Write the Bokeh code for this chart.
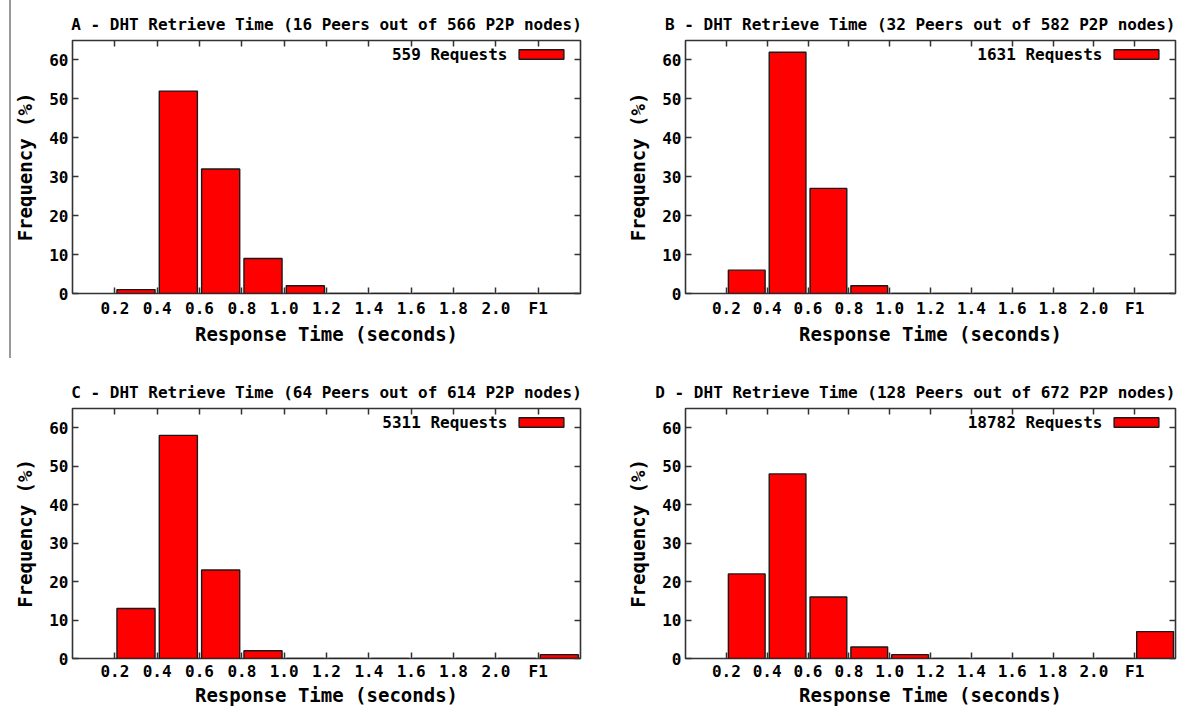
from bokeh.plotting import figure
from bokeh.layouts import row, column
from bokeh.models import (Range1d, FixedTicker, LinearAxis, Legend, LegendItem,
                          Label, Div, Spacer, ColumnDataSource)
from bokeh.embed import file_html
from bokeh.resources import INLINE

# ---------------- data ----------------
bin_labels = ["0.2", "0.4", "0.6", "0.8", "1.0", "1.2", "1.4", "1.6", "1.8", "2.0", "F1"]
freq_a = [1, 52, 32, 9, 2, 0, 0, 0, 0, 0, 0]
freq_b = [6, 62, 27, 2, 0, 0, 0, 0, 0, 0, 0]
freq_c = [13, 58, 23, 2, 0, 0, 0, 0, 0, 0, 1]
freq_d = [22, 48, 16, 3, 1, 0, 0, 0, 0, 0, 7]
titles = [
    "A - DHT Retrieve Time (16 Peers out of 566 P2P nodes)",
    "B - DHT Retrieve Time (32 Peers out of 582 P2P nodes)",
    "C - DHT Retrieve Time (64 Peers out of 614 P2P nodes)",
    "D - DHT Retrieve Time (128 Peers out of 672 P2P nodes)",
]
request_labels = ["559 Requests", "1631 Requests", "5311 Requests", "18782 Requests"]
y_ticks = [0, 10, 20, 30, 40, 50, 60]
x_title = "Response Time (seconds)"
y_title = "Frequency (%)"

FONT = "DejaVu Sans Mono"
X_MAX = len(bin_labels) + 1
Y_MAX = 65
FRAME_COLOR = "#333333"


def make_panel(title, values, req, width, height, bl, br, bt, bb,
               title_align="center", tick_std=5, xlab_std=2):
    tick_pos = list(range(1, len(bin_labels) + 1))
    src = ColumnDataSource(dict(x=[t + 0.5 for t in tick_pos], top=values))
    p = figure(width=width, height=height,
               x_range=Range1d(0, X_MAX), y_range=Range1d(0, Y_MAX),
               output_backend="svg", toolbar_location=None, title=title,
               min_border_left=bl, min_border_right=br,
               min_border_top=bt, min_border_bottom=bb)
    p.background_fill_color = "white"
    p.border_fill_color = "white"
    p.grid.visible = False
    p.outline_line_color = FRAME_COLOR
    p.outline_line_width = 1.6

    p.title.text_font = FONT
    p.title.text_font_style = "bold"
    p.title.text_font_size = "16px"
    p.title.align = title_align
    p.title.text_color = "black"
    p.title.standoff = 14

    r = p.vbar(x="x", top="top", width=0.9, bottom=0, source=src,
               fill_color="#ff0000", line_color="#1a1a1a", line_width=1.4)

    # bottom axis
    xa = p.xaxis[0]
    xa.ticker = FixedTicker(ticks=tick_pos)
    xa.major_label_overrides = {t: lab for t, lab in zip(tick_pos, bin_labels)}
    xa.axis_label = x_title
    # left axis
    ya = p.yaxis[0]
    ya.ticker = FixedTicker(ticks=y_ticks)
    ya.axis_label = y_title

    for ax, std in ((xa, xlab_std), (ya, 10)):
        ax.axis_line_color = None
        ax.major_tick_in = 6
        ax.major_tick_out = 0
        ax.major_tick_line_color = FRAME_COLOR
        ax.major_tick_line_width = 1.5
        ax.minor_tick_line_color = None
        ax.major_label_text_font = FONT
        ax.major_label_text_font_style = "bold"
        ax.major_label_text_font_size = "16px"
        ax.major_label_text_color = "black"
        ax.axis_label_text_font = FONT
        ax.axis_label_text_font_style = "bold"
        ax.axis_label_text_font_size = "19px"
        ax.axis_label_text_color = "black"
        ax.axis_label_standoff = std
    xa.major_label_standoff = tick_std
    ya.major_label_standoff = 4

    # mirrored ticks (top / right), no labels
    top_ax = LinearAxis(ticker=FixedTicker(ticks=tick_pos))
    right_ax = LinearAxis(ticker=FixedTicker(ticks=y_ticks))
    for ax in (top_ax, right_ax):
        ax.axis_line_color = None
        ax.major_tick_in = 6
        ax.major_tick_out = 0
        ax.major_tick_line_color = FRAME_COLOR
        ax.major_tick_line_width = 1.5
        ax.minor_tick_line_color = None
        ax.major_label_text_font_size = "1px"
        ax.major_label_text_color = None
        ax.major_label_standoff = 0
    p.add_layout(top_ax, "above")
    p.add_layout(right_ax, "right")

    # legend: box on the right, text on the left
    legend = Legend(items=[LegendItem(label=" ", renderers=[r])],
                    location="top_right", glyph_width=56, glyph_height=12,
                    label_text_font_size="1px", label_text_color=None,
                    label_width=0, label_height=0, label_standoff=3,
                    padding=0, spacing=0, margin=8,
                    border_line_color=None, background_fill_alpha=0)
    p.add_layout(legend)
    p.add_layout(Label(x=X_MAX, y=Y_MAX, x_offset=-73, y_offset=-14, text=req,
                       text_align="right", text_baseline="middle",
                       text_font=FONT, text_font_style="bold",
                       text_font_size="16px", text_color="black"))
    return p


# row 1: 366 px tall, row 2: 342 px tall
pa = make_panel(titles[0], freq_a, request_labels[0], 589, 366, 61, 20, 40, 73)
pb = make_panel(titles[1], freq_b, request_labels[1], 577, 366, 85, 2, 40, 73,
                title_align="right")
pc = make_panel(titles[2], freq_c, request_labels[2], 589, 342, 61, 20, 42, 50,
                tick_std=3, xlab_std=0)
pd = make_panel(titles[3], freq_d, request_labels[3], 577, 342, 85, 2, 42, 50,
                title_align="right", tick_std=3, xlab_std=0)

bar = Div(text="", width=2, height=358, margin=(0, 0, 0, 9),
          styles={"background-color": "#999999"})
gap = Spacer(width=11, height=10)

layout = column(row(bar, pa, pb, spacing=0), row(gap, pc, pd, spacing=0), spacing=0)

open("out.html", "w").write(file_html(layout, INLINE))
